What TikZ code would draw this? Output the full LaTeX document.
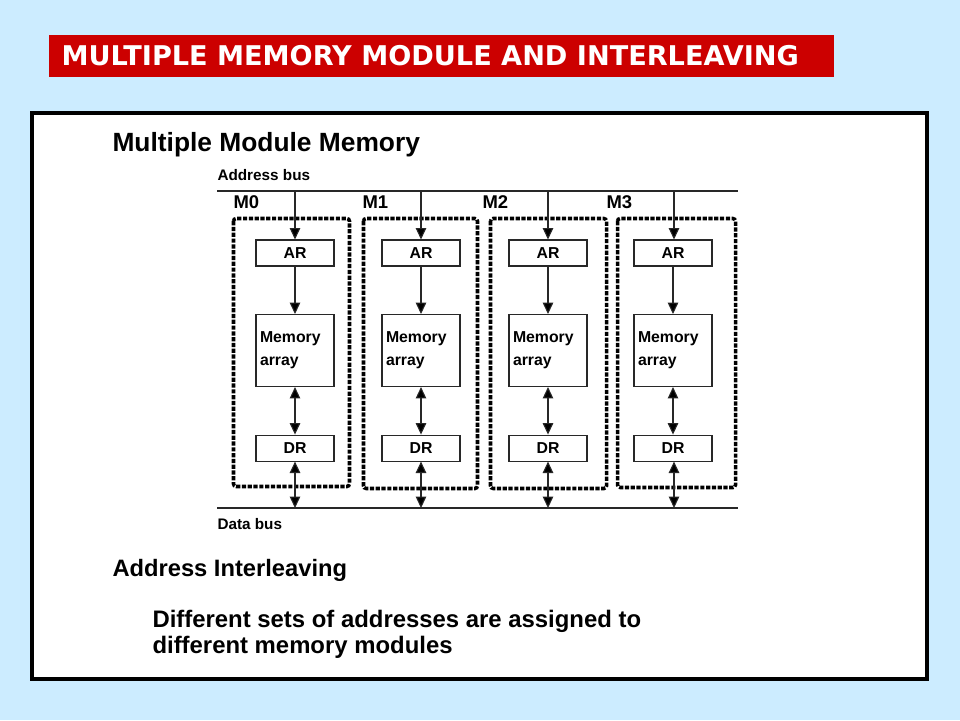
\documentclass[tikz,border=0pt]{standalone}
\usepackage{fontspec}
\setmainfont{Liberation Sans}
\newfontfamily\bannerfont{DejaVu Sans}
\usetikzlibrary{arrows.meta,positioning}

\definecolor{slidebg}{RGB}{204,236,255}
\definecolor{bannerred}{RGB}{204,0,0}
\definecolor{wire}{RGB}{40,40,40}

\begin{document}
\begin{tikzpicture}[x=0.02cm,
            y=-0.02cm,
            >={Triangle[length=6.5pt,width=6pt]},
            node distance=0.95cm,
            semithick,
            reg/.style={draw=wire, fill=white, minimum width=1.56cm,
                        minimum height=0.52cm, inner sep=0pt,
                        font=\fontsize{9}{11}\selectfont\bfseries},
            memarray/.style={draw=wire, fill=white, text width=1.4cm,
                        inner xsep=0.08cm, inner ysep=0pt, minimum height=1.44cm,
                        align=left, font=\fontsize{9}{13}\selectfont\bfseries},
            module/.style={draw=black, line width=2pt,
                        dash pattern=on 2.4pt off 0.9pt, rounded corners=1.5pt},
            bus/.style={draw=wire, line width=0.6pt},
            lbl/.style={inner sep=0pt, anchor=base west,
                        font=\fontsize{8.7}{10}\selectfont\bfseries}]

        % slide background, banner and white panel
        \useasboundingbox[fill=slidebg] (0,0) rectangle (960,720);
        \fill[bannerred] (49,35) rectangle (834,77);
        \node[anchor=west, inner sep=0pt, text=white,
              font=\fontsize{15.45}{18}\selectfont\bannerfont\bfseries] (title) at (61,56)
              {MULTIPLE MEMORY MODULE AND INTERLEAVING};
        \draw[fill=white, line width=2.3pt] (32,113) rectangle (927,679);

        \node[anchor=base west, inner sep=0pt,
              font=\fontsize{15}{18}\selectfont\bfseries] (head) at (112,151)
              {Multiple Module Memory};

        % buses
        \node[lbl] (abus) at (217,180) {Address bus};
        \node[lbl] (dbus) at (217,529) {Data bus};
        \draw[bus] (217,191) -- (738,191);
        \draw[bus] (217,508) -- (738,508);
        \coordinate (a0) at (295,191);
        \coordinate (a1) at (421,191);
        \coordinate (a2) at (548,191);
        \coordinate (a3) at (674,191);
        \coordinate (d0) at (295,508);
        \coordinate (d1) at (421,508);
        \coordinate (d2) at (548,508);
        \coordinate (d3) at (674,508);

        % modules
        \draw[module] (233.5,218.5) rectangle (349.5,486.5);
        \draw[module] (363.5,218.5) rectangle (477.5,488.5);
        \draw[module] (490.5,218.5) rectangle (606.5,488.5);
        \draw[module] (617.5,218.5) rectangle (735.5,487.5);

        \node[lbl, font=\fontsize{10.5}{12}\selectfont\bfseries] (m0) at (233,208) {M0};
        \node[lbl, font=\fontsize{10.5}{12}\selectfont\bfseries] (m1) at (362,208) {M1};
        \node[lbl, font=\fontsize{10.5}{12}\selectfont\bfseries] (m2) at (482,208) {M2};
        \node[lbl, font=\fontsize{10.5}{12}\selectfont\bfseries] (m3) at (606,208) {M3};

        \node[reg]      (AR0) at (295,253)     {AR};
        \node[memarray] (mem0) [below=of AR0]  {Memory\\array};
        \node[reg]      (DR0) [below=of mem0]  {DR};

        \node[reg]      (AR1) at (421,253)     {AR};
        \node[memarray] (mem1) [below=of AR1]  {Memory\\array};
        \node[reg]      (DR1) [below=of mem1]  {DR};

        \node[reg]      (AR2) at (548,253)     {AR};
        \node[memarray] (mem2) [below=of AR2]  {Memory\\array};
        \node[reg]      (DR2) [below=of mem2]  {DR};

        \node[reg]      (AR3) at (673,253)     {AR};
        \node[memarray] (mem3) [below=of AR3]  {Memory\\array};
        \node[reg]      (DR3) [below=of mem3]  {DR};

        \path[draw=wire] (a0) edge[->] (AR0.north -| a0)
              (AR0) edge[->] (mem0)
              (mem0) edge[<->] (DR0)
              (DR0.south -| d0) edge[<->] (d0)
              (a1) edge[->] (AR1.north -| a1)
              (AR1) edge[->] (mem1)
              (mem1) edge[<->] (DR1)
              (DR1.south -| d1) edge[<->] (d1)
              (a2) edge[->] (AR2.north -| a2)
              (AR2) edge[->] (mem2)
              (mem2) edge[<->] (DR2)
              (DR2.south -| d2) edge[<->] (d2)
              (a3) edge[->] (AR3.north -| a3)
              (AR3) edge[->] (mem3)
              (mem3) edge[<->] (DR3)
              (DR3.south -| d3) edge[<->] (d3);

        % interleaving text
        \node[anchor=base west, inner sep=0pt,
              font=\fontsize{13.5}{16}\selectfont\bfseries] (sub) at (112,576)
              {Address Interleaving};
        \node[anchor=base west, inner sep=0pt, align=left,
              font=\fontsize{13.6}{14.8}\selectfont\bfseries] (desc) at (152,653)
              {Different sets of addresses are assigned to\\different memory modules};

    \end{tikzpicture}
\end{document}
